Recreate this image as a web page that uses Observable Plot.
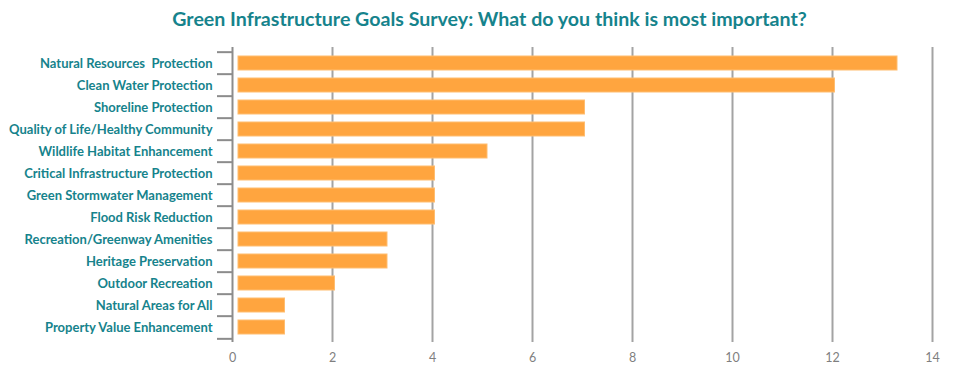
<!DOCTYPE html>
<html>
<head>
<meta charset="utf-8">
<script src="https://cdn.jsdelivr.net/npm/d3@7"></script>
<script src="https://cdn.jsdelivr.net/npm/@observablehq/plot@0.6"></script>
<style>
  html, body { margin: 0; padding: 0; background: #fff; }
</style>
</head>
<body>
<div id="chart"></div>
<script>
const title = "Green Infrastructure Goals Survey: What do you think is most important?";
const categories = [
  "Natural Resources  Protection",
  "Clean Water Protection",
  "Shoreline Protection",
  "Quality of Life/Healthy Community",
  "Wildlife Habitat Enhancement",
  "Critical Infrastructure Protection",
  "Green Stormwater Management",
  "Flood Risk Reduction",
  "Recreation/Greenway Amenities",
  "Heritage Preservation",
  "Outdoor Recreation",
  "Natural Areas for All",
  "Property Value Enhancement"
];
const values = [13.3, 12.05, 7.05, 7.05, 5.1, 4.05, 4.05, 4.05, 3.1, 3.1, 2.05, 1.05, 1.05];
const xTicks = [0, 2, 4, 6, 8, 10, 12, 14];
const gridTicks = [2, 4, 6, 8, 10, 12, 14];

const data = categories.map((c, i) => ({category: c, value: values[i]}));

const W = 957, H = 372, mTop = 47, mBottom = 30, mLeft = 232, mRight = 25;
const step = (H - mTop - mBottom) / categories.length;
const teal = "#16838c";
const gray = "#a3a3a3";
const font = "Lato, 'Open Sans', sans-serif";

const chart = Plot.plot({
  width: W,
  height: H,
  marginTop: mTop,
  marginBottom: mBottom,
  marginLeft: mLeft,
  marginRight: mRight,
  style: {fontFamily: font, background: "#fff"},
  x: {domain: [0, 14], ticks: xTicks},
  y: {domain: categories, paddingInner: 0.38, paddingOuter: 0.19},
  marks: [
    Plot.ruleX(gridTicks, {stroke: gray, strokeWidth: 2}),
    Plot.barX(data, {y: "category", x: "value", fill: "#ffa53f", stroke: "#ffbd70", strokeWidth: 1, insetLeft: 6}),
    Plot.ruleX([0], {stroke: "#8c8c8c", strokeWidth: 2}),
    Plot.ruleY(categories, {y: d => d, x1: -0.3, x2: 0, dy: -step / 2, stroke: "#8c8c8c", strokeWidth: 2}),
    Plot.ruleY([categories[categories.length - 1]], {y: d => d, x1: -0.3, x2: 0, dy: step / 2, stroke: "#8c8c8c", strokeWidth: 2}),
    Plot.axisX({ticks: xTicks, tickSize: 0, tickPadding: 11, fontSize: 12.5, fill: "#7f7f7f", label: null}),
    Plot.axisY({tickSize: 0, tickPadding: 20, fontSize: 13, fontWeight: "bold", fill: teal, label: null}),
    Plot.text([title], {frameAnchor: "top", dy: -35, dx: -93, fontSize: 19.6, fontWeight: "bold", fill: teal, fontFamily: font})
  ]
});
document.getElementById("chart").appendChild(chart);
</script>
</body>
</html>
